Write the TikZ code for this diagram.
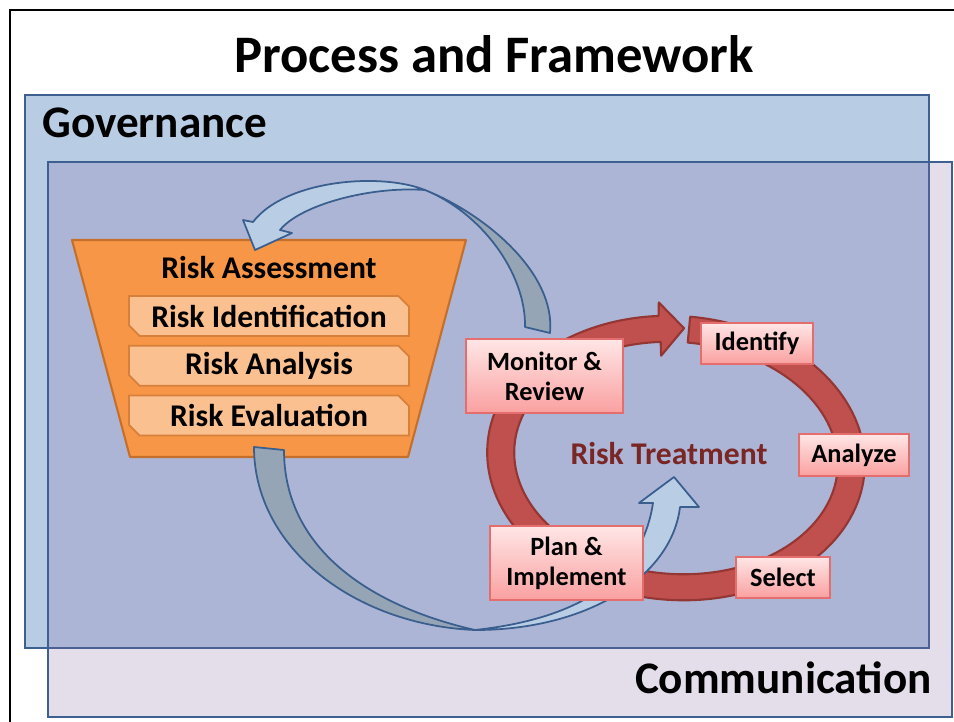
\documentclass[tikz,border=0pt]{standalone}
\usepackage{fontspec}
\setmainfont{Carlito}
\usetikzlibrary{shapes.misc,positioning}

\definecolor{govfill}{RGB}{184,204,228}
\definecolor{commfill}{RGB}{128,100,162}
\definecolor{frameline}{RGB}{62,96,145}
\definecolor{assessfill}{RGB}{247,150,70}
\definecolor{assessline}{RGB}{196,112,44}
\definecolor{stepfill}{RGB}{250,192,144}
\definecolor{stepline}{RGB}{214,128,60}
\definecolor{ringfill}{RGB}{192,80,77}
\definecolor{ringline}{RGB}{148,54,52}
\definecolor{boxtop}{RGB}{255,230,230}
\definecolor{boxbottom}{RGB}{250,160,160}
\definecolor{boxline}{RGB}{228,110,110}
\definecolor{arrowfront}{RGB}{185,205,229}
\definecolor{arrowback}{RGB}{149,165,181}
\definecolor{arrowline}{RGB}{58,94,142}
\definecolor{treatred}{RGB}{122,38,36}

\newlength\px
\setlength\px{0.02cm}

\begin{document}
\begin{tikzpicture}[x=0.02cm, y=-0.02cm,
    region/.style={draw=frameline, line width=1.2pt},
    bigtext/.style={font=\fontsize{25.7}{30}\selectfont\bfseries, inner sep=0pt},
    substep/.style={chamfered rectangle, chamfered rectangle corners={north east,south west},
      chamfered rectangle xsep=5\px, draw=stepline, fill=stepfill, line width=1pt,
      minimum width=280\px, minimum height=40\px, inner sep=0pt,
      font=\fontsize{18}{21}\selectfont\bfseries},
    stage/.style={draw=boxline, line width=0.8pt, top color=boxtop, bottom color=boxbottom,
      font=\fontsize{15}{17}\selectfont\bfseries, align=center, inner sep=0pt},
    front/.style={fill=arrowfront, draw=arrowline, line width=1pt, line join=round},
    back/.style={fill=arrowback, draw=arrowline, line width=1pt, line join=round}]
    \useasboundingbox (0,0) rectangle (954,721);
    \fill[white] (0,0) rectangle (954,721);
    \draw[line width=1.2pt] (10,740) -- (10,10) -- (970,10);

    \node[font=\fontsize{30}{36}\selectfont\bfseries, anchor=base] (title) at (494,72) {Process and Framework};

    % Governance and Communication planes
    \filldraw[region, fill=govfill] (25,95) rectangle (929,648);
    \filldraw[region, fill=commfill, fill opacity=0.21] (48,162) rectangle (952,717);
    \node[bigtext, anchor=base west] (gov) at (42,137) {Governance};
    \node[bigtext, anchor=base east] (comm) at (932,693) {Communication};

    % Risk assessment funnel
    \filldraw[fill=assessfill, draw=assessline, line width=1.2pt, line join=round]
        (72,240) -- (466,240) -- (408,457) -- (130,457) -- cycle;
    \node[font=\fontsize{18}{21}\selectfont\bfseries, anchor=base] (assess) at (269,278) {Risk Assessment};
    \node[substep] (ident) at (269,316) {Risk Identification};
    \node[substep, below=8\px of ident] (analysis) {Risk Analysis};
    \node[substep, below=8\px of analysis] (evaluation) {Risk Evaluation};

    % Risk treatment cycle (ring arrow)
    \begin{scope}[shift={(676,458)}, rotate=-4]
        \filldraw[fill=ringfill, draw=ringline, line width=1.2pt, line join=round]
            (-88.7:189 and 142) arc[start angle=-88.7, end angle=261.7, x radius=189, y radius=142]
            -- (-28,-154) -- (-1,-130) -- (-22,-101)
            -- (261.7:162 and 116) arc[start angle=261.7, end angle=-88.7, x radius=162, y radius=116]
            -- cycle;
    \end{scope}
    \node[font=\fontsize{18}{21}\selectfont\bfseries, text=treatred, anchor=base] (treat) at (669,464) {Risk Treatment};

    % Feedback arrow: monitor back to assessment
    \filldraw[back] (425,190) .. controls (485,214) and (556,273) .. (550,333)
        -- (525,327) .. controls (526,272) and (480,212) .. (425,190) -- cycle;
    \filldraw[front] (425,190) .. controls (380,172) and (285,180) .. (253,222)
        -- (243,220) -- (255,250) -- (292,233)
        -- (280,230) .. controls (300,205) and (370,186) .. (425,190) -- cycle;

    % Hand-over arrow: assessment into treatment
    \filldraw[back] (254,447) .. controls (254,548) and (355,625) .. (475,630)
        .. controls (370,606) and (284,549) .. (284,450) -- cycle;
    \filldraw[front] (475,630) .. controls (590,630) and (672,575) .. (680,507)
        -- (699,507) -- (674,477) -- (639,503)
        -- (653,503) .. controls (642,575) and (585,618) .. (475,630) -- cycle;

    % Treatment steps
    \node[stage, minimum width=157\px, minimum height=74\px] (monitor) at (544.5,376) {Monitor \&\\Review};
    \node[stage, minimum width=112\px, minimum height=41\px] (identify) at (757,343.5) {Identify};
    \node[stage, minimum width=110\px, minimum height=42\px] (analyze) at (854,455) {Analyze};
    \node[stage, minimum width=94\px, minimum height=41\px] (select) at (783,577.5) {Select};
    \node[stage, minimum width=153\px, minimum height=74\px] (plan) at (566.5,563) {Plan \&\\Implement};
\end{tikzpicture}
\end{document}
